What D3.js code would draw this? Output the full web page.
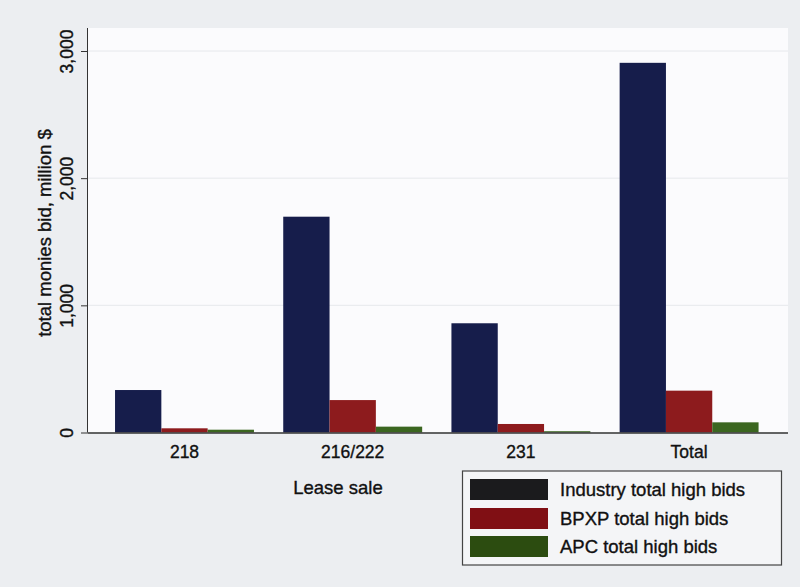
<!DOCTYPE html>
<html><head><meta charset="utf-8">
<script src="https://cdn.jsdelivr.net/npm/d3@7"></script>
<style>body{margin:0;background:#fff}svg{display:block}text{font-family:"Liberation Sans",Arial,Helvetica,sans-serif;fill:#111;stroke:#111;stroke-width:0.35px}</style>
</head><body>
<script>
const categories = ["218", "216/222", "231", "Total"];
const seriesNames = ["Industry total high bids", "BPXP total high bids", "APC total high bids"];
const industry = [334, 1697, 859, 2907];
const bpxp = [33, 255, 67, 329];
const apc = [22, 46, 10, 80];
const yTicks = [0, 1000, 2000, 3000];
const barColors = ["#161d4b", "#8d1b1d", "#3b6620"];
const legendColors = ["#1b1b1d", "#800f14", "#2c4c10"];
const yTitle = "total monies bid, million $";
const xTitle = "Lease sale";

const W = 800, H = 587;
const svg = d3.select("body").append("svg").attr("width", W).attr("height", H);
svg.append("rect").attr("width", W).attr("height", H).attr("fill", "#eceef1");

const plot = {left: 88, right: 788, top: 28, bottom: 432.5};
svg.append("rect").attr("x", plot.left).attr("y", plot.top)
  .attr("width", plot.right - plot.left).attr("height", plot.bottom - plot.top).attr("fill", "#fbfbfd");

const y = d3.scaleLinear().domain([0, 3000]).range([plot.bottom, 51]);
const x0 = d3.scaleBand().domain(categories).range([100.4, 773.2]).paddingInner(0.174).paddingOuter(0.087);
const x1 = d3.scaleBand().domain([0, 1, 2]).range([0, x0.bandwidth()]);

// gridlines
svg.append("g").selectAll("line").data(yTicks.filter(d => d > 0)).join("line")
  .attr("x1", plot.left).attr("x2", plot.right).attr("y1", d => y(d)).attr("y2", d => y(d))
  .attr("stroke", "#e6e8ec").attr("stroke-width", 1);

const series = [industry, bpxp, apc];
const rows = categories.map((c, i) => ({cat: c, vals: series.map(s => s[i])}));
const g = svg.append("g");
g.selectAll("g").data(rows).join("g")
  .attr("transform", d => `translate(${x0(d.cat)},0)`)
  .selectAll("rect").data(d => d.vals.map((v, k) => ({v, k}))).join("rect")
  .attr("x", d => x1(d.k)).attr("width", x1.bandwidth())
  .attr("y", d => y(d.v)).attr("height", d => y(0) - y(d.v))
  .attr("fill", d => barColors[d.k]);

// y axis
const yAxis = d3.axisLeft(y).tickValues(yTicks).tickSize(7).tickFormat(d3.format(","));
const ya = svg.append("g").attr("transform", `translate(${plot.left},0)`).call(yAxis);
ya.select(".domain").attr("d", `M-0.5,${plot.top}V${plot.bottom}`).attr("stroke", "#333");
ya.selectAll(".tick line").attr("stroke", "#333");
ya.selectAll(".tick text").attr("font-size", 17.5).attr("fill", "#111")
  .attr("x", null).attr("y", null).attr("dy", 0)
  .attr("text-anchor", "middle")
  .attr("transform", "translate(-15,0) rotate(-90)");

// x axis
const xAxis = d3.axisBottom(x0).tickSize(0).tickPadding(18);
const xa = svg.append("g").attr("transform", `translate(0,${plot.bottom})`).call(xAxis);
xa.select(".domain").attr("d", `M${plot.left},0.5H${plot.right}`).attr("stroke", "#333").attr("stroke-width", 1.5);
xa.selectAll(".tick text").attr("font-size", 17.5).attr("fill", "#111").attr("dy", "0.45em");

svg.append("text").attr("transform", `translate(51,233) rotate(-90)`)
  .attr("text-anchor", "middle").attr("font-size", 18.5).text(yTitle);
svg.append("text").attr("x", 338).attr("y", 494).attr("text-anchor", "middle")
  .attr("font-size", 18.5).text(xTitle);

// legend
const lg = svg.append("g");
lg.append("rect").attr("x", 462.5).attr("y", 471).attr("width", 319).attr("height", 94)
  .attr("fill", "#f4f5f7").attr("stroke", "#444").attr("stroke-width", 1.2);
const rowsY = [479, 508, 536];
lg.selectAll("g").data(seriesNames).join("g").each(function(name, i){
  const gg = d3.select(this);
  gg.append("rect").attr("x", 470).attr("y", rowsY[i]).attr("width", 78).attr("height", 21)
    .attr("fill", legendColors[i]);
  gg.append("text").attr("x", 560).attr("y", rowsY[i] + 17).attr("font-size", 18.5).text(name);
});
</script>
</body></html>
